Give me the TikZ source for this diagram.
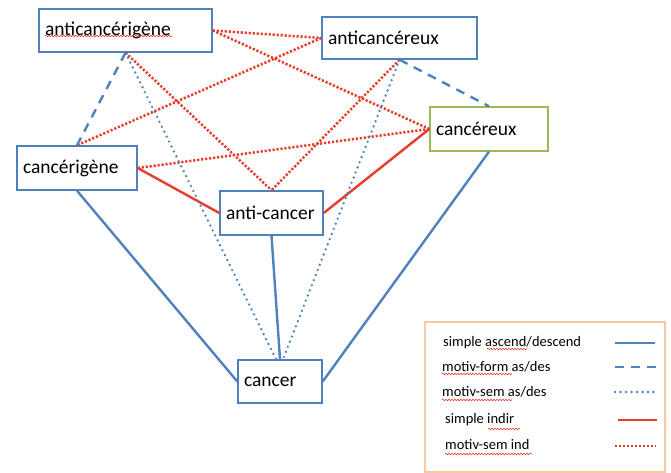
\documentclass[tikz,border=0pt]{standalone}
\usepackage{fontspec}
\setmainfont{Carlito}
\usepackage{xcolor}
\definecolor{lxblue}{RGB}{79,129,189}
\definecolor{lxred}{RGB}{232,60,45}
\definecolor{lxgreen}{RGB}{155,187,89}
\definecolor{lxpeach}{RGB}{250,200,160}
\usetikzlibrary{positioning, decorations.pathmorphing}

\tikzset{
  word/.style={draw=lxblue, line width=1.4pt, fill=white, inner xsep=6pt,
    font=\fontsize{19.5}{22}\selectfont, align=left, minimum height=43pt},
  simpleasc/.style={lxblue, line width=2.4pt},
  formasc/.style={lxblue, line width=2.4pt, dash pattern=on 9pt off 7pt},
  semasc/.style={lxblue, line width=2.6pt, line cap=round, dash pattern=on 0pt off 5.5pt},
  simpleind/.style={lxred, line width=2.4pt},
  semind/.style={lxred, line width=2.5pt, dash pattern=on 2.2pt off 1.8pt},
  spell/.style={lxred, line width=0.6pt, decorate,
    decoration={snake, segment length=3pt, amplitude=0.8pt}},
  legtext/.style={font=\fontsize{14.5}{17}\selectfont, anchor=west, inner sep=0pt}
}

\begin{document}
\begin{tikzpicture}[x=1pt, y=-1pt]
  \useasboundingbox (0,0) rectangle (671,473);

  % Words
  \node[word, text width=161pt] (acg) at (125.5,30.5) {anticancérigène};
  \node[word, text width=143pt, minimum height=42pt] (acx) at (399.5,38) {anticancéreux};
  \node[word, text width=106pt, draw=lxgreen, minimum height=44pt] (cx) at (489,129) {cancéreux};
  \node[word, text width=108pt, minimum height=44pt] (cg) at (77,168) {cancérigène};
  \node[word, text width=91pt, minimum height=44pt] (ac) at (271.5,213) {anti-cancer};
  \node[word, text width=72pt] (c) at (280,381.5) {cancer};
  \draw[spell] (45,36) -- (172,36);

  % --- motiv-sem ind ---
  \draw[semind] (acg.east) -- (acx.west);
  \draw[semind] (acg.east) -- (cx.west);
  \draw[semind] (acg.south) -- (ac.north);
  \draw[semind] (acx.west) -- (cg.north);
  \draw[semind] (acx.south) -- (ac.north);
  \draw[semind] (cg.east) -- (cx.west);

  % --- simple indir ---
  \draw[simpleind] (cg.east) -- (ac.west);
  \draw[simpleind] (ac.east) -- (cx.west);

  % --- motiv-form as/des ---
  \draw[formasc] (acg.south) -- (cg.north);
  \draw[formasc] (acx.south) -- (cx.north);

  % --- motiv-sem as/des ---
  \draw[semasc] (acg.south) -- ([xshift=-4pt]c.north);
  \draw[semasc] (acx.south) -- ([xshift=3pt]c.north);

  % --- simple ascend/descend ---
  \draw[simpleasc] (cg.south) -- (c.west);
  \draw[simpleasc] (ac.south) -- (c.north);
  \draw[simpleasc] (c.east) -- (cx.south);

  % Legend
  \node[draw=lxpeach, line width=1.4pt, minimum width=240pt, minimum height=150pt] (legend) at (545,397) {};
  \node[legtext] (l1) at (443,343) {simple ascend/descend};
  \node[legtext] (l2) at (442,367) {motiv-form as/des};
  \node[legtext] (l3) at (442,392) {motiv-sem as/des};
  \node[legtext] (l4) at (445,420) {simple indir};
  \node[legtext] (l5) at (445,445) {motiv-sem ind};
  \draw[simpleasc] (615,343) -- (655,343);
  \draw[formasc] (615,367) -- (656,367);
  \draw[semasc] (615,392) -- (656,392);
  \draw[simpleind] (618,420) -- (657,420);
  \draw[semind] (615,446) -- (656,446);
  \draw[spell] (487,349) -- (527,349);
  \draw[spell] (442,374) -- (512,374);
  \draw[spell] (442,400) -- (512,400);
  \draw[spell] (488,429) -- (520,429);
  \draw[spell] (445,454) -- (532,454);
\end{tikzpicture}
\end{document}
